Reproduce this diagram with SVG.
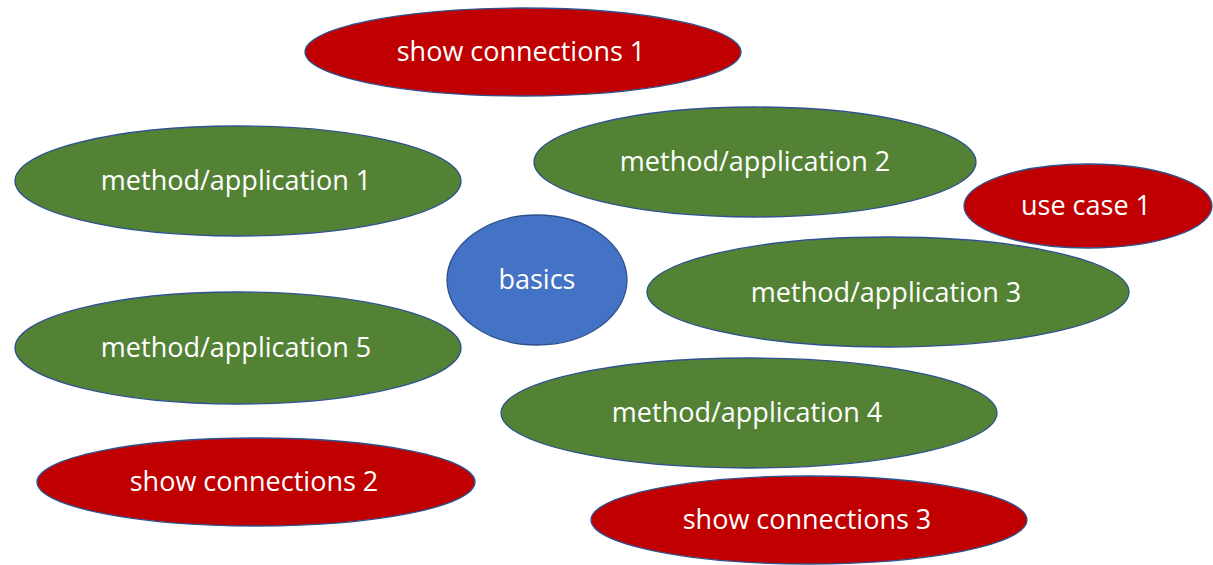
<svg xmlns="http://www.w3.org/2000/svg" width="1213" height="565" viewBox="0 0 1213 565">
<style>
.n ellipse{stroke:#2F528F;stroke-width:1.3}
.g{fill:#548235}
.r{fill:#C00000}
.b{fill:#4472C4}
text{font-family:"Open Sans","Noto Sans",sans-serif;font-size:27px;fill:#ffffff;text-anchor:middle;dominant-baseline:central}
</style>
<rect width="1213" height="565" fill="#ffffff"/>
<g id="connectors"></g>
<g id="show-connections-1" class="n"><ellipse class="r" cx="523" cy="52" rx="218" ry="44"/><text x="521" y="50">show connections 1</text></g>
<g id="method-application-1" class="n"><ellipse class="g" cx="238" cy="181" rx="223" ry="55"/><text x="236" y="179">method/application 1</text></g>
<g id="method-application-2" class="n"><ellipse class="g" cx="755" cy="162" rx="221" ry="55"/><text x="755" y="160">method/application 2</text></g>
<g id="use-case-1" class="n"><ellipse class="r" cx="1088" cy="206" rx="124" ry="42"/><text x="1086" y="204">use case 1</text></g>
<g id="basics" class="n"><ellipse class="b" cx="537" cy="280" rx="90" ry="65"/><text x="537" y="278">basics</text></g>
<g id="method-application-3" class="n"><ellipse class="g" cx="888" cy="292" rx="241" ry="55"/><text x="886" y="291">method/application 3</text></g>
<g id="method-application-5" class="n"><ellipse class="g" cx="238" cy="348" rx="223" ry="56"/><text x="236" y="346">method/application 5</text></g>
<g id="method-application-4" class="n"><ellipse class="g" cx="749" cy="413" rx="248" ry="55"/><text x="747" y="411">method/application 4</text></g>
<g id="show-connections-2" class="n"><ellipse class="r" cx="256" cy="482" rx="219" ry="44"/><text x="254" y="480">show connections 2</text></g>
<g id="show-connections-3" class="n"><ellipse class="r" cx="809" cy="520" rx="218" ry="44"/><text x="807" y="518">show connections 3</text></g>
</svg>
